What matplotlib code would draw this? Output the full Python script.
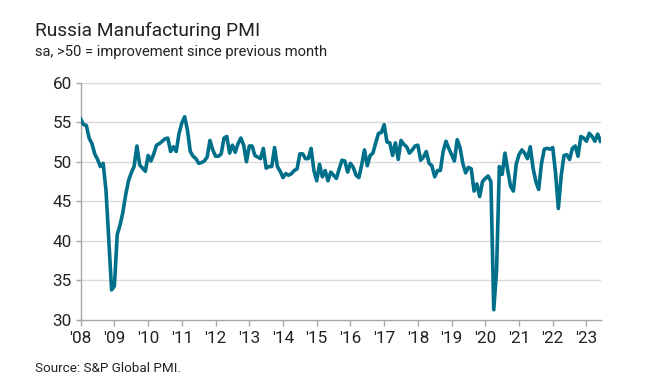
import numpy as np
import matplotlib
matplotlib.use("Agg")
import matplotlib.pyplot as plt

plt.rcParams['font.family'] = ['Roboto', 'DejaVu Sans']

# monthly PMI readings, Jan 2008 - Jun 2023
pmi_2008 = [55.4, 54.7, 54.6, 53.0, 52.3, 51.0, 50.3, 49.4, 49.8, 46.4, 40.0, 33.8]
pmi_2009 = [34.3, 40.8, 42.0, 43.6, 45.8, 47.6, 48.6, 49.4, 52.0, 49.6, 49.2, 48.8]
pmi_2010 = [50.8, 50.1, 51.0, 52.1, 52.3, 52.6, 52.9, 53.0, 51.3, 51.9, 51.3, 53.6]
pmi_2011 = [54.9, 55.7, 54.0, 51.3, 50.7, 50.4, 49.8, 49.9, 50.1, 50.6, 52.7, 51.5]
pmi_2012 = [50.7, 50.7, 51.0, 53.0, 53.2, 51.1, 52.1, 51.2, 52.3, 53.0, 52.1, 50.0]
pmi_2013 = [52.0, 52.0, 50.8, 50.6, 50.4, 51.7, 49.2, 49.4, 49.4, 51.8, 49.4, 48.8]
pmi_2014 = [48.0, 48.5, 48.3, 48.5, 48.9, 49.1, 51.0, 51.0, 50.4, 50.4, 51.7, 48.9]
pmi_2015 = [47.6, 49.7, 48.1, 48.9, 47.6, 48.7, 48.3, 47.9, 49.1, 50.2, 50.1, 48.7]
pmi_2016 = [49.8, 49.3, 48.3, 48.0, 49.6, 51.5, 49.5, 50.8, 51.1, 52.4, 53.6, 53.7]
pmi_2017 = [54.7, 52.5, 52.4, 50.8, 52.4, 50.3, 52.7, 52.2, 51.9, 51.1, 51.5, 52.0]
pmi_2018 = [52.1, 50.2, 50.6, 51.3, 49.8, 49.5, 48.1, 48.9, 48.9, 51.3, 52.6, 51.7]
pmi_2019 = [50.9, 50.1, 52.8, 51.8, 49.8, 48.6, 49.3, 49.1, 46.3, 47.2, 45.6, 47.5]
pmi_2020 = [47.9, 48.2, 47.5, 31.3, 36.2, 49.4, 48.4, 51.1, 48.9, 46.9, 46.3, 49.7]
pmi_2021 = [50.9, 51.5, 51.1, 50.4, 51.9, 49.2, 47.5, 46.5, 49.8, 51.6, 51.7, 51.6]
pmi_2022 = [51.8, 48.6, 44.1, 48.2, 50.8, 50.9, 50.3, 51.7, 52.0, 50.7, 53.2, 53.0]
pmi_2023 = [52.6, 53.6, 53.2, 52.6, 53.5, 52.6]

year_labels = ["'08", "'09", "'10", "'11", "'12", "'13", "'14", "'15",
               "'16", "'17", "'18", "'19", "'20", "'21", "'22", "'23"]
y_ticks = [30, 35, 40, 45, 50, 55, 60]

pmi = (pmi_2008 + pmi_2009 + pmi_2010 + pmi_2011 + pmi_2012 + pmi_2013 +
       pmi_2014 + pmi_2015 + pmi_2016 + pmi_2017 + pmi_2018 + pmi_2019 +
       pmi_2020 + pmi_2021 + pmi_2022 + pmi_2023)
months = np.arange(len(pmi))

W, H = 671, 386
fig = plt.figure(figsize=(W / 100, H / 100), dpi=100)
ax = fig.add_axes([80.7 / W, 1 - 320 / H, (600.5 - 80.7) / W, (320 - 82.7) / H])

ax.plot(months, pmi, color='#00708a', lw=2.6, solid_joinstyle='round', zorder=3)

ax.set_xlim(0, len(pmi) - 1)
ax.set_ylim(30, 60)
ax.set_yticks(y_ticks)
ax.set_xticks(np.arange(len(year_labels)) * 12)
ax.set_xticklabels(year_labels)

for y in y_ticks[1:]:
    ax.axhline(y, color='#d9d9d9', lw=1.0, zorder=1)

for s in ['top', 'right']:
    ax.spines[s].set_visible(False)
for s in ['left', 'bottom']:
    ax.spines[s].set_color('#a6a6a6')
    ax.spines[s].set_linewidth(1.0)

ax.tick_params(axis='y', length=3.5, width=1, color='#a6a6a6', labelsize=12.3,
               labelcolor='#222222', pad=3)
ax.tick_params(axis='x', length=4, width=1, color='#a6a6a6', labelsize=12.3,
               labelcolor='#222222', pad=4)

fig.text(35 / W, 1 - 31 / H, 'Russia Manufacturing PMI', fontsize=13.8,
         color='#222222', va='center', ha='left')
fig.text(35 / W, 1 - 52 / H, 'sa, >50 = improvement since previous month',
         fontsize=10.6, color='#222222', va='center', ha='left')
fig.text(35 / W, 1 - 368 / H, 'Source: S&P Global PMI.', fontsize=9.7,
         color='#222222', va='center', ha='left')

fig.savefig('out.png', dpi=100)
